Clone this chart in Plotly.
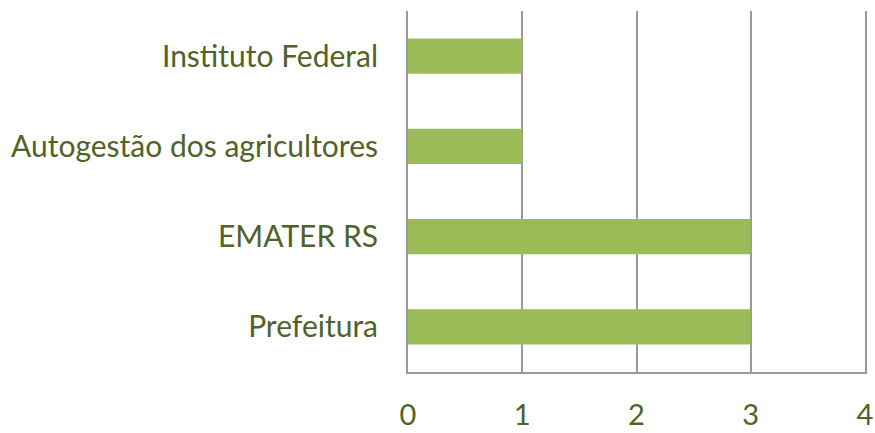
import plotly.graph_objects as go

categories = ["Prefeitura", "EMATER RS", "Autogestão dos agricultores", "Instituto Federal"]
values = [3, 3, 1, 1]
x_ticks = [0, 1, 2, 3, 4]

text_color = "#4F6228"
grid_color = "#999999"

fig = go.Figure(go.Bar(
    y=categories, x=values, orientation="h",
    marker=dict(color="#9BBB59", line=dict(width=0)),
    width=0.39,
))

fig.update_layout(
    width=875, height=433,
    margin=dict(l=408, r=10, t=11, b=61),
    paper_bgcolor="white", plot_bgcolor="white",
    font=dict(family="Lato", color=text_color),
    showlegend=False,
    xaxis=dict(
        range=[0, 4], tickvals=x_ticks, ticktext=[str(t) for t in x_ticks],
        showgrid=True, gridcolor=grid_color, gridwidth=2,
        zeroline=False, showline=True, linecolor=grid_color, linewidth=2,
        ticks="", ticklabelstandoff=16, automargin=False,
        tickfont=dict(size=29, color=text_color, family="Lato"),
        fixedrange=True,
    ),
    yaxis=dict(
        categoryorder="array", categoryarray=categories,
        showgrid=False, zeroline=False,
        showline=True, mirror=True, linecolor=grid_color, linewidth=2,
        ticks="", ticklabelstandoff=22, automargin=False,
        tickfont=dict(size=30, color=text_color, family="Lato"),
        range=[-0.5, 3.5], fixedrange=True,
    ),
)

fig.write_html(
    "out.html",
    config={"displayModeBar": False},
    post_script="document.body.style.margin='0';document.body.style.overflow='hidden';",
)
